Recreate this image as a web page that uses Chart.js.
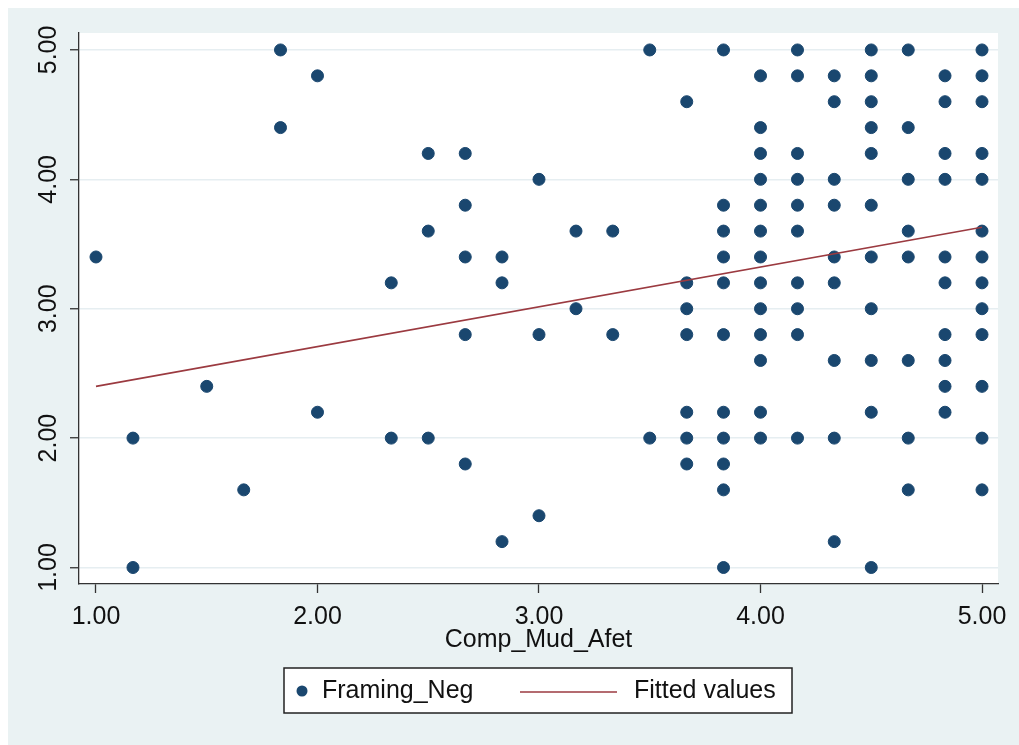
<!DOCTYPE html>
<html lang="en">
<head>
<meta charset="utf-8">
<title>Framing_Neg vs Comp_Mud_Afet</title>
<script src="https://cdn.jsdelivr.net/npm/chart.js@4.4.1/dist/chart.umd.min.js"></script>
<style>
  html, body { margin: 0; padding: 0; background: #fff; }
  #wrap { position: absolute; left: 8px; top: 8px; width: 1011px; height: 737px; background: #eaf2f3; }
</style>
</head>
<body>
<div id="wrap">
  <canvas id="chart" width="1011" height="737"></canvas>
</div>
<script>
// x positions of the dot columns (Comp_Mud_Afet)
var xCols = [1.00, 1.167, 1.50, 1.667, 1.833, 2.00, 2.333, 2.50, 2.667, 2.833, 3.00, 3.167,
             3.333, 3.50, 3.667, 3.833, 4.00, 4.167, 4.333, 4.50, 4.667, 4.833, 5.00];

// Framing_Neg values found in each column
var yCols = [
  [3.4],
  [2.0, 1.0],
  [2.4],
  [1.6],
  [5.0, 4.4],
  [4.8, 2.2],
  [3.2, 2.0],
  [4.2, 3.6, 2.0],
  [4.2, 3.8, 3.4, 2.8, 1.8],
  [3.4, 3.2, 1.2],
  [4.0, 2.8, 1.4],
  [3.6, 3.0],
  [3.6, 2.8],
  [5.0, 2.0],
  [4.6, 3.2, 3.0, 2.8, 2.2, 2.0, 1.8],
  [5.0, 3.8, 3.6, 3.4, 3.2, 2.8, 2.2, 2.0, 1.8, 1.6, 1.0],
  [4.8, 4.4, 4.2, 4.0, 3.8, 3.6, 3.4, 3.2, 3.0, 2.8, 2.6, 2.2, 2.0],
  [5.0, 4.8, 4.2, 4.0, 3.8, 3.6, 3.2, 3.0, 2.8, 2.0],
  [4.8, 4.6, 4.0, 3.8, 3.4, 3.2, 2.6, 2.0, 1.2],
  [5.0, 4.8, 4.6, 4.4, 4.2, 3.8, 3.4, 3.0, 2.6, 2.2, 1.0],
  [5.0, 4.4, 4.0, 3.6, 3.4, 2.6, 2.0, 1.6],
  [4.8, 4.6, 4.2, 4.0, 3.4, 3.2, 2.8, 2.6, 2.4, 2.2],
  [5.0, 4.8, 4.6, 4.2, 4.0, 3.6, 3.4, 3.2, 3.0, 2.8, 2.4, 2.0, 1.6]
];

// fitted line end points
var fitX = [1.00, 5.00];
var fitY = [2.40, 3.63];

var xTicks = [1, 2, 3, 4, 5];
var yTicks = [1, 2, 3, 4, 5];

var navy = '#1a476f';
var maroon = '#9b3a40';
var ink = '#111111';
var fontFam = "'Liberation Sans', Arial, sans-serif";

var pts = [];
xCols.forEach(function(x, i) {
  yCols[i].forEach(function(y) { pts.push({x: x, y: y}); });
});
var fitPts = fitX.map(function(x, i) { return {x: x, y: fitY[i]}; });

// white plot region
var plotBg = {
  id: 'plotBg',
  beforeDraw: function(chart) {
    var a = chart.chartArea, c = chart.ctx;
    c.save();
    c.fillStyle = '#ffffff';
    c.fillRect(a.left, a.top, a.right - a.left, a.bottom - a.top);
    c.restore();
  }
};

// Stata style boxed legend
var boxLegend = {
  id: 'boxLegend',
  afterDraw: function(chart) {
    var c = chart.ctx;
    var ds = chart.data.datasets;
    c.save();
    c.fillStyle = '#ffffff';
    c.fillRect(276, 660, 508, 45);
    c.strokeStyle = '#222222';
    c.lineWidth = 1.5;
    c.strokeRect(276, 660, 508, 45);

    c.fillStyle = ds[0].backgroundColor;
    c.beginPath();
    c.arc(294, 683, 5.5, 0, Math.PI * 2);
    c.fill();

    c.strokeStyle = ds[1].borderColor;
    c.lineWidth = 1.5;
    c.beginPath();
    c.moveTo(512, 684);
    c.lineTo(609, 684);
    c.stroke();

    c.fillStyle = ink;
    c.font = '25px ' + fontFam;
    c.textBaseline = 'middle';
    c.textAlign = 'left';
    c.fillText(ds[0].label, 314, 683);
    c.fillText(ds[1].label, 626, 683);
    c.restore();
  }
};

new Chart(document.getElementById('chart'), {
  type: 'scatter',
  data: {
    datasets: [{
      label: 'Framing_Neg',
      data: pts,
      backgroundColor: navy,
      borderColor: navy,
      borderWidth: 1,
      pointRadius: 6,
      pointHoverRadius: 6,
      order: 1
    }, {
      type: 'line',
      label: 'Fitted values',
      data: fitPts,
      borderColor: maroon,
      borderWidth: 1.6,
      pointRadius: 0,
      fill: false,
      order: 0
    }]
  },
  options: {
    responsive: false,
    animation: false,
    events: [],
    layout: { padding: { top: 25, right: 21, bottom: 91, left: 0 } },
    plugins: {
      legend: { display: false },
      tooltip: { enabled: false }
    },
    scales: {
      x: {
        type: 'linear',
        min: 0.9233,
        max: 5.0722,
        afterBuildTicks: function(s) { s.ticks = xTicks.map(function(v) { return {value: v}; }); },
        afterFit: function(s) { s.height = 70; },
        grid: { drawOnChartArea: false, tickLength: 9, tickColor: '#333333', tickWidth: 1.3 },
        border: { color: '#333333', width: 1.3 },
        ticks: {
          padding: 9,
          color: ink,
          font: { family: fontFam, size: 25 },
          maxRotation: 0,
          callback: function(v) { return Number(v).toFixed(2); }
        },
        title: {
          display: true,
          text: 'Comp_Mud_Afet',
          color: ink,
          font: { family: fontFam, size: 25 },
          padding: { top: 0, bottom: -1.5 }
        }
      },
      y: {
        type: 'linear',
        min: 0.8725,
        max: 5.131,
        afterBuildTicks: function(s) { s.ticks = yTicks.map(function(v) { return {value: v}; }); },
        afterFit: function(s) { s.width = 71; },
        grid: { color: '#e6eef1', lineWidth: 1.5, tickLength: 9, tickColor: '#333333', tickWidth: 1.3 },
        border: { color: '#333333', width: 1.3 },
        ticks: {
          padding: -3,
          crossAlign: 'center',
          minRotation: 90,
          maxRotation: 90,
          color: ink,
          font: { family: fontFam, size: 25 },
          callback: function(v) { return Number(v).toFixed(2); }
        }
      }
    }
  },
  plugins: [plotBg, boxLegend]
});
</script>
</body>
</html>
